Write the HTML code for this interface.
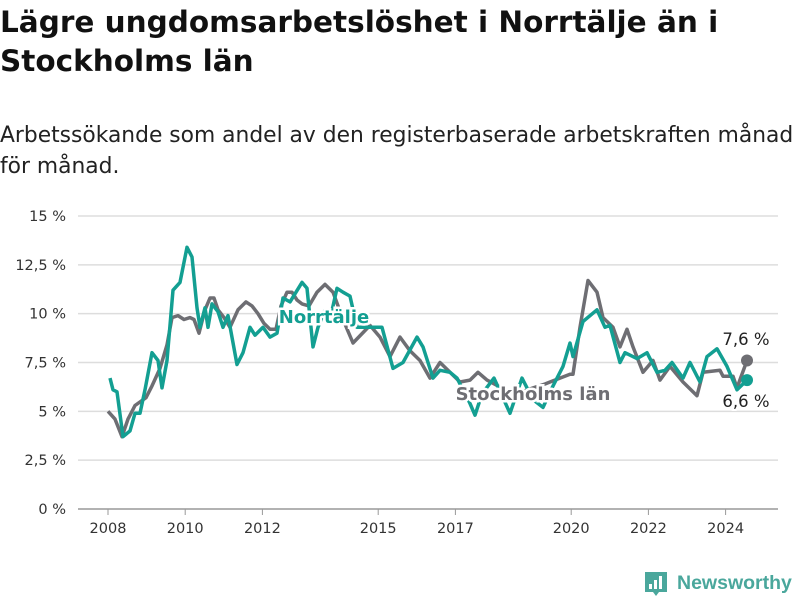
<!DOCTYPE html>
<html><head><meta charset="utf-8"><style>
body{margin:0;background:#fff;font-family:"DejaVu Sans","Liberation Sans",sans-serif;}
#wrap{position:relative;width:800px;height:600px;overflow:hidden;}
h1{position:absolute;left:0;top:3px;margin:0;font-size:29.5px;line-height:39px;font-weight:bold;color:#111;white-space:nowrap;}
.sub{position:absolute;left:0;top:120px;font-size:21.8px;line-height:31px;color:#222;white-space:nowrap;}
</style></head><body>
<div id="wrap">
<h1>Lägre ungdomsarbetslöshet i Norrtälje än i<br>Stockholms län</h1>
<div class="sub">Arbetssökande som andel av den registerbaserade arbetskraften månad<br>för månad.</div>
<svg id="chart" width="800" height="600" style="position:absolute;left:0;top:0"></svg>
</div>
<script>
const yTicks=[0,2.5,5,7.5,10,12.5,15];
const yTickLabels=["0 %","2,5 %","5 %","7,5 %","10 %","12,5 %","15 %"];
const xTicks=[2008,2010,2012,2015,2017,2020,2022,2024];
const sthlmX=[108,115,122,128,135,146,152,160,167,172,178,184,190,194,199,205,210,214,218,224,230,238,246,252,258,264,270,276,281,287,292,297,302,309,317,325,333,343,353,370,380,390,400,410,420,430,440,450,460,470,478,487,498,510,522,533,545,550,560,570,573,580,588,597,603,613,620,627,633,643,653,660,670,683,697,703,720,723,733,737,747];
const sthlmV=[5.0,4.6,3.7,4.6,5.3,5.7,6.3,7.2,8.4,9.8,9.9,9.7,9.8,9.7,9.0,10.2,10.8,10.8,10.2,9.8,9.3,10.2,10.6,10.4,10.0,9.5,9.2,9.2,10.4,11.1,11.1,10.7,10.5,10.4,11.1,11.5,11.1,9.7,8.5,9.4,8.8,7.8,8.8,8.1,7.6,6.7,7.5,7.0,6.5,6.6,7.0,6.6,6.3,6.0,6.0,6.2,6.4,6.5,6.7,6.9,6.9,9.3,11.7,11.1,9.8,9.3,8.3,9.2,8.3,7.0,7.6,6.6,7.3,6.5,5.8,7.0,7.1,6.8,6.8,6.2,7.6];
const norrX=[110,113,117,123,130,135,140,145,152,158,162,167,173,180,187,192,197,200,205,208,212,218,223,228,237,243,250,255,263,270,277,283,290,302,307,313,318,325,330,337,343,350,357,367,373,382,393,403,417,423,433,440,450,457,470,475,482,494,502,510,522,533,543,552,563,570,573,583,597,605,610,620,625,637,647,657,665,672,683,690,700,707,717,727,737,747];
const norrV=[6.7,6.1,6.0,3.7,4.0,4.9,4.9,6.1,8.0,7.6,6.2,7.6,11.2,11.6,13.4,12.9,10.3,9.3,10.3,9.3,10.5,10.1,9.3,9.9,7.4,8.0,9.3,8.9,9.3,8.8,9.0,10.8,10.6,11.6,11.3,8.3,9.3,10.2,9.7,11.3,11.1,10.9,9.3,9.3,9.3,9.3,7.2,7.5,8.8,8.3,6.7,7.1,7.0,6.7,5.4,4.8,5.9,6.7,5.8,4.9,6.7,5.6,5.2,6.2,7.3,8.5,7.8,9.6,10.2,9.3,9.4,7.5,8.0,7.7,8.0,7.0,7.1,7.5,6.7,7.5,6.5,7.8,8.2,7.3,6.1,6.6];
const NS="http://www.w3.org/2000/svg";
const svg=document.getElementById('chart');
const L=78,R=778,Y0=509,Y15=216;
const yS=v=>Y0-(v/15)*(Y0-Y15);
const xYear=y=>108+(y-2008)*38.6;
function mk(t,a){const e=document.createElementNS(NS,t);for(const k in a)e.setAttribute(k,a[k]);svg.appendChild(e);return e;}
yTicks.forEach((v,i)=>{
 const g=mk('line',{x1:L,x2:R,y1:yS(v),y2:yS(v),stroke:v===0?'#999':'#ddd','stroke-width':1.5});
 
 
 const t=mk('text',{x:66,y:yS(v)+5,'text-anchor':'end','font-size':14.5,fill:'#333'});
 t.textContent=yTickLabels[i];
 
 
});
xTicks.forEach(yr=>{
 const x=xYear(yr);
 const tk=mk('line',{x1:x,x2:x,y1:Y0,y2:Y0+6,stroke:'#999'});
 
 
 const t=mk('text',{x:x,y:533,'text-anchor':'middle','font-size':14.5,fill:'#333'});
 t.textContent=yr;
 
 
});
function line(xs,vs,color,name){
 const d=xs.map((x,i)=>(i?'L':'M')+x+','+yS(vs[i]).toFixed(1)).join('');
 const p=mk('path',{d:d,fill:'none',stroke:color,'stroke-width':3.5,'stroke-linejoin':'round'});
 
 
 const n=xs.length-1;
 const c=mk('circle',{cx:xs[n],cy:yS(vs[n]),r:6,fill:color});
 
 
}
line(sthlmX,sthlmV,'#6e6e73','stockholm-line');
line(norrX,norrV,'#139f92','norrtalje-line');
function lbl(x,y,txt,color,name,bold){
 const t=mk('text',{x:x,y:y,'text-anchor':'middle','font-size':bold?18:16.5,'font-weight':bold?'bold':'normal',fill:color,stroke:'#fff','stroke-width':bold?5:4,'paint-order':'stroke'});
 t.textContent=txt;
 
 
}
lbl(324,323,'Norrtälje','#139f92','norrtalje-label',true);
lbl(533,400,'Stockholms län','#6e6e73','stockholm-label',true);
lbl(746,345,'7,6 %','#222','stockholm-end-value',false);
lbl(746,407,'6,6 %','#222','norrtalje-end-value',false);
const lg=mk('g',{});


const r=document.createElementNS(NS,'path');
r.setAttribute('d','M645,572 h22 v20 h-8 l-3,4 l-3,-4 h-8 z');r.setAttribute('fill','#4aa79c');lg.appendChild(r);
[[649,584,3,5],[654,580,3,9],[659,576,3,13]].forEach(b=>{const e=document.createElementNS(NS,'rect');e.setAttribute('x',b[0]);e.setAttribute('y',b[1]);e.setAttribute('width',b[2]);e.setAttribute('height',b[3]);e.setAttribute('fill','#fff');lg.appendChild(e);});
const lt=document.createElementNS(NS,'text');
lt.setAttribute('x',677);lt.setAttribute('y',589);lt.setAttribute('font-size',19.5);lt.setAttribute('fill','#4aa79c');lt.setAttribute('font-weight','bold');lt.setAttribute('font-family','Liberation Sans, sans-serif');
lt.textContent='Newsworthy';lg.appendChild(lt);
</script>
</body></html>
